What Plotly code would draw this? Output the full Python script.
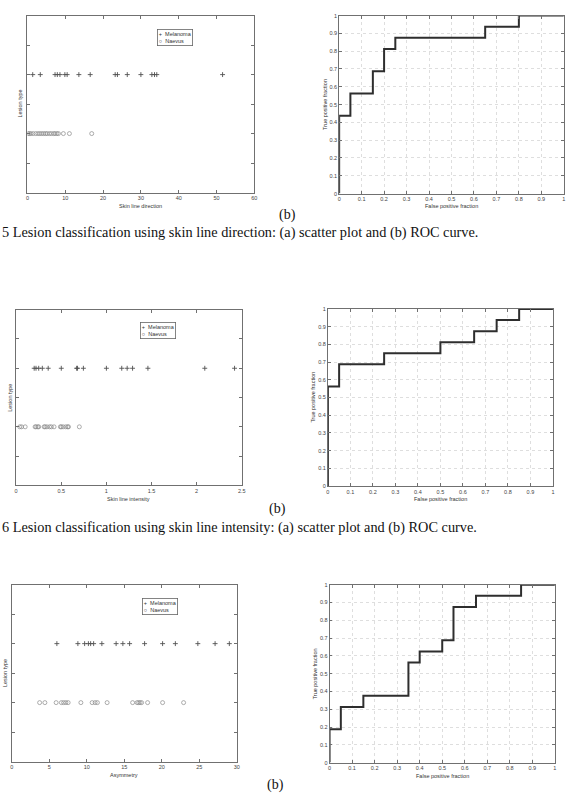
import plotly.graph_objects as go

W, H = 577, 806

# ---------------- data ----------------
levels = {"Melanoma": 2, "Naevus": 1}

# 1: skin line direction
dir_melanoma = [1.4, 3.4, 7.3, 7.9, 8.6, 9.9, 10.5, 13.6, 16.6, 23.2, 23.8, 26.4, 30.0, 32.9, 33.6, 34.2, 51.6]
dir_naevus = [0.2, 0.5, 0.9, 1.5, 2.2, 2.8, 3.3, 3.8, 4.3, 4.8, 5.2, 5.8, 6.3, 6.9, 7.3, 7.8, 8.2, 9.5, 11.1, 17.0]
roc1_fpr = [0, 0, 0.05, 0.15, 0.20, 0.25, 0.65, 0.80, 1.0]
roc1_tpr = [0, 0.4375, 0.5625, 0.6875, 0.8125, 0.875, 0.9375, 1.0, 1.0]

# 2: skin line intensity
int_melanoma = [0.20, 0.22, 0.25, 0.29, 0.355, 0.50, 0.67, 0.68, 0.745, 1.0, 1.17, 1.23, 1.29, 1.46, 2.09, 2.42]
int_naevus = [0.04, 0.06, 0.10, 0.21, 0.22, 0.24, 0.25, 0.31, 0.32, 0.34, 0.37, 0.39, 0.42, 0.49, 0.50, 0.52, 0.55, 0.57, 0.58, 0.70]
roc2_fpr = [0, 0, 0.05, 0.25, 0.50, 0.65, 0.75, 0.85, 1.0]
roc2_tpr = [0, 0.5625, 0.6875, 0.75, 0.8125, 0.875, 0.9375, 1.0, 1.0]

# 3: asymmetry
asy_melanoma = [6.0, 8.8, 9.7, 10.2, 10.5, 10.9, 12.0, 13.9, 14.8, 15.7, 17.7, 20.1, 21.8, 24.8, 27.1, 29.0]
asy_naevus = [3.7, 4.4, 5.9, 6.6, 6.9, 7.2, 7.5, 9.2, 10.7, 11.1, 11.4, 12.7, 16.1, 16.7, 16.9, 17.1, 17.3, 18.1, 20.1, 22.9]
roc3_fpr = [0, 0, 0.05, 0.15, 0.35, 0.40, 0.50, 0.55, 0.65, 0.85, 1.0]
roc3_tpr = [0, 0.1875, 0.3125, 0.375, 0.5625, 0.625, 0.6875, 0.875, 0.9375, 1.0, 1.0]

scatter_titles = ["Skin line direction", "Skin line intensity", "Asymmetry"]
scatter_ranges = [[0, 60], [0, 2.5], [0, 30]]
scatter_dticks = [10, 0.5, 5]
captions = [
    "5 Lesion classification using skin line direction: (a) scatter plot and (b) ROC curve.",
    "6 Lesion classification using skin line intensity: (a) scatter plot and (b) ROC curve.",
]

# ---------------- layout geometry (pixels) ----------------
scatter_boxes = [(25.7, 255, 12.7, 191), (14.3, 242.3, 309, 486), (10, 237.3, 586, 764.3)]
roc_boxes = [(340.7, 567.7, 12.7, 192), (329.3, 556.7, 308.3, 486.7), (331, 558.7, 586, 765.3)]
legend_pos = [(157, 25.7), (139, 321.7), (141.7, 599)]
b_pos = [(289, 213.6), (278, 509.5), (276, 787.6)]
caption_y = [231, 528]

def dx(l, r):
    return [l / W, r / W]

def dy(t, b):
    return [1 - b / H, 1 - t / H]

AX = "#707070"
SANS = "Liberation Sans, Arial"
TICKFONT = dict(family=SANS, size=5.5, color="#444")
TITLEFONT = dict(family=SANS, size=5.5, color="#333")

fig = go.Figure()
layout = {}

datasets = [
    (dir_melanoma, dir_naevus, roc1_fpr, roc1_tpr),
    (int_melanoma, int_naevus, roc2_fpr, roc2_tpr),
    (asy_melanoma, asy_naevus, roc3_fpr, roc3_tpr),
]

annotations = []
for i, (mel, nae, fpr, tpr) in enumerate(datasets):
    sx, sy = 2 * i + 1, 2 * i + 1
    rx, ry = 2 * i + 2, 2 * i + 2
    sxn = "x" if sx == 1 else f"x{sx}"
    syn = "y" if sy == 1 else f"y{sy}"
    rxn, ryn = f"x{rx}", f"y{ry}"

    fig.add_trace(go.Scatter(
        x=mel, y=[levels["Melanoma"]] * len(mel), mode="markers", name="Melanoma",
        marker=dict(symbol="cross-thin-open", size=3.5, color="#505050", line=dict(color="#505050", width=0.9)),
        xaxis=sxn, yaxis=syn, showlegend=False))
    fig.add_trace(go.Scatter(
        x=nae, y=[levels["Naevus"]] * len(nae), mode="markers", name="Naevus",
        marker=dict(symbol="circle-open", size=4, color="#8a8a8a", line=dict(color="#8a8a8a", width=0.7)),
        xaxis=sxn, yaxis=syn, showlegend=False))
    fig.add_trace(go.Scatter(
        x=fpr, y=tpr, mode="lines", line=dict(color="#2e2e2e", width=2, shape="hv"),
        xaxis=rxn, yaxis=ryn, showlegend=False))

    l, r, t, b = scatter_boxes[i]
    layout[f"xaxis{'' if sx == 1 else sx}"] = dict(
        domain=dx(l, r), anchor=syn, range=scatter_ranges[i], dtick=scatter_dticks[i], tick0=0,
        showline=True, linecolor=AX, linewidth=0.8, mirror="ticks", ticks="inside",
        ticklen=3, tickcolor=AX, tickwidth=0.8, showgrid=False, zeroline=False,
        tickfont=TICKFONT)
    layout[f"yaxis{'' if sy == 1 else sy}"] = dict(
        domain=dy(t, b), anchor=sxn, range=[0, 3], dtick=0.5, tick0=0,
        showline=True, linecolor=AX, linewidth=0.8, mirror="ticks", ticks="inside",
        ticklen=3, tickcolor=AX, tickwidth=0.8, showgrid=False, zeroline=False,
        showticklabels=False)
    annotations.append(dict(text=scatter_titles[i], x=(l + r) / 2 / W, y=1 - (b + 13.5) / H,
                            xref="paper", yref="paper", showarrow=False, xanchor="center",
                            yanchor="middle", font=TITLEFONT))
    annotations.append(dict(text="Lesion type", x=(l - 7) / W, y=1 - (t + b) / 2 / H, textangle=-90,
                            xref="paper", yref="paper", showarrow=False, xanchor="center",
                            yanchor="middle", font=TITLEFONT))
    lx, ly = legend_pos[i]
    annotations.append(dict(text="+&nbsp;&nbsp;Melanoma<br>○&nbsp;&nbsp;Naevus", x=lx / W, y=1 - ly / H,
                            xref="paper", yref="paper", showarrow=False, xanchor="left", yanchor="top",
                            align="left", bgcolor="white", bordercolor="#666", borderwidth=0.8, borderpad=1,
                            font=dict(family=SANS, size=5.5, color="#333")))

    l, r, t, b = roc_boxes[i]
    for key, dom, anc in ((f"xaxis{rx}", dx(l, r), ryn), (f"yaxis{ry}", dy(t, b), rxn)):
        layout[key] = dict(
            domain=dom, anchor=anc, range=[0, 1], dtick=0.1, tick0=0,
            showline=True, linecolor=AX, linewidth=0.8, mirror="ticks", ticks="inside",
            ticklen=3, tickcolor=AX, tickwidth=0.8, showgrid=True, gridcolor="#dedede",
            gridwidth=0.5, griddash="dot", zeroline=False, tickfont=TICKFONT)
    annotations.append(dict(text="False positive fraction", x=(l + r) / 2 / W, y=1 - (b + 13) / H,
                            xref="paper", yref="paper", showarrow=False, xanchor="center",
                            yanchor="middle", font=TITLEFONT))
    annotations.append(dict(text="True positive fraction", x=(l - 15) / W, y=1 - (t + b) / 2 / H, textangle=-90,
                            xref="paper", yref="paper", showarrow=False, xanchor="center",
                            yanchor="middle", font=TITLEFONT))

    bx, by = b_pos[i]
    annotations.append(dict(text="(b)", x=bx / W, y=1 - by / H, xref="paper", yref="paper",
                            showarrow=False, xanchor="center", yanchor="middle",
                            font=dict(family="Liberation Serif, Times New Roman", size=14, color="#111")))

for cap, cy in zip(captions, caption_y):
    annotations.append(dict(text=cap, x=0, y=1 - cy / H, xref="paper", yref="paper", showarrow=False,
                            xanchor="left", yanchor="middle", xshift=-2,
                            font=dict(family="Liberation Serif, Times New Roman", size=14.3, color="#111")))

fig.update_layout(
    width=W, height=H, margin=dict(l=0, r=0, t=0, b=0),
    paper_bgcolor="white", plot_bgcolor="white",
    annotations=annotations, **layout)

fig.write_html("out.html")
